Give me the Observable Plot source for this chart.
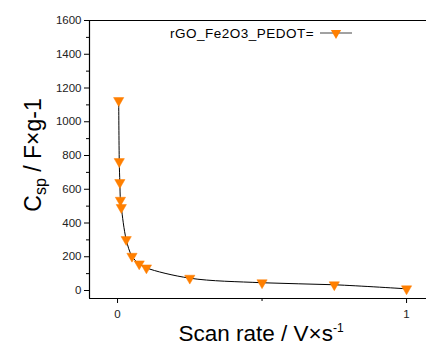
<!DOCTYPE html>
<html>
<head>
<meta charset="utf-8">
<script src="https://cdn.jsdelivr.net/npm/d3@7"></script>
<script src="https://cdn.jsdelivr.net/npm/@observablehq/plot@0.6"></script>
<style>
  html, body { margin: 0; padding: 0; background: #fff; }
  svg { display: block; }
</style>
</head>
<body>
<div id="chart"></div>
<script>
const scanRate = [0.004, 0.006, 0.008, 0.01, 0.013, 0.03, 0.05, 0.075, 0.1, 0.25, 0.5, 0.75, 1];
const csp = [1126, 764, 640, 535, 492, 302, 203, 158, 134, 73, 46, 34, 10];
const seriesName = "rGO_Fe2O3_PEDOT=";
const yMajor = [0, 200, 400, 600, 800, 1000, 1200, 1400, 1600];
const yMinor = [100, 300, 500, 700, 900, 1100, 1300, 1500];
const xMajor = [0, 1];
const xMinor = [0.5];
const xDomain = [-0.097, 1.069];
const yDomain = [-47.4, 1600];

const data = scanRate.map((x, i) => ({x, y: csp[i]}));
const orange = "#ff7f00";
const font = "Liberation Sans, Arial, sans-serif";
const mr = 3.8;

const plot = Plot.plot({
  width: 426,
  height: 347,
  marginLeft: 89,
  marginRight: 0,
  marginTop: 20,
  marginBottom: 49,
  style: {fontFamily: font, background: "#fff", color: "#222"},
  x: {domain: xDomain},
  y: {domain: yDomain},
  marks: [
    Plot.ruleY([yDomain[1]], {stroke: "#000", strokeWidth: 1.2}),
    Plot.ruleY([yDomain[0]], {stroke: "#000", strokeWidth: 1.2}),
    Plot.ruleX([xDomain[0]], {stroke: "#000", strokeWidth: 1.2}),
    Plot.axisY(yMajor, {tickSize: 5, tickPadding: 3, fontSize: 11.5, label: null, stroke: "#000", tickFormat: d3.format("d")}),
    Plot.axisY(yMinor, {tickSize: 3, tickFormat: () => "", label: null, stroke: "#000"}),
    Plot.axisX(xMajor, {tickSize: 5, tickPadding: 6, fontSize: 11.5, label: null, stroke: "#000", tickFormat: d3.format("d")}),
    Plot.axisX(xMinor, {tickSize: 3, tickFormat: () => "", label: null, stroke: "#000"}),
    Plot.line(data, {x: "x", y: "y", curve: "catmull-rom", stroke: "#000", strokeWidth: 1}),
    Plot.dot(data, {x: "x", y: "y", symbol: "triangle", rotate: 180, r: mr, fill: orange, stroke: orange, strokeWidth: 0.5})
  ]
});

const svg = d3.select(plot);
// Legend
const lg = svg.append("g").attr("font-family", font).attr("text-anchor", "start");
lg.append("text").attr("x", 170).attr("y", 38).attr("font-size", 13.5).attr("letter-spacing", 0.5).attr("fill", "#000").text(seriesName);
lg.append("line").attr("x1", 320).attr("x2", 352).attr("y1", 33).attr("y2", 33).attr("stroke", "#444").attr("stroke-width", 1);
lg.append("path").attr("d", d3.symbol(d3.symbolTriangle, Math.PI * mr * mr)()).attr("transform", "translate(336,33) rotate(180)").attr("fill", orange);

// X axis label
const xl = svg.append("text").attr("x", 261).attr("y", 341).attr("text-anchor", "middle")
  .attr("font-family", font).attr("font-size", 22.5).attr("fill", "#000");
xl.append("tspan").text("Scan rate / V×s");
xl.append("tspan").attr("dy", -9).attr("font-size", 12).text("-1");

// Y axis label
const yl = svg.append("text").attr("transform", "translate(41,155) rotate(-90)").attr("text-anchor", "middle")
  .attr("font-family", font).attr("font-size", 23).attr("fill", "#000");
yl.append("tspan").text("C");
yl.append("tspan").attr("dy", 5).attr("font-size", 16).text("sp");
yl.append("tspan").attr("dy", -5).text(" / F×g-1");

document.getElementById("chart").appendChild(plot);
</script>
</body>
</html>
